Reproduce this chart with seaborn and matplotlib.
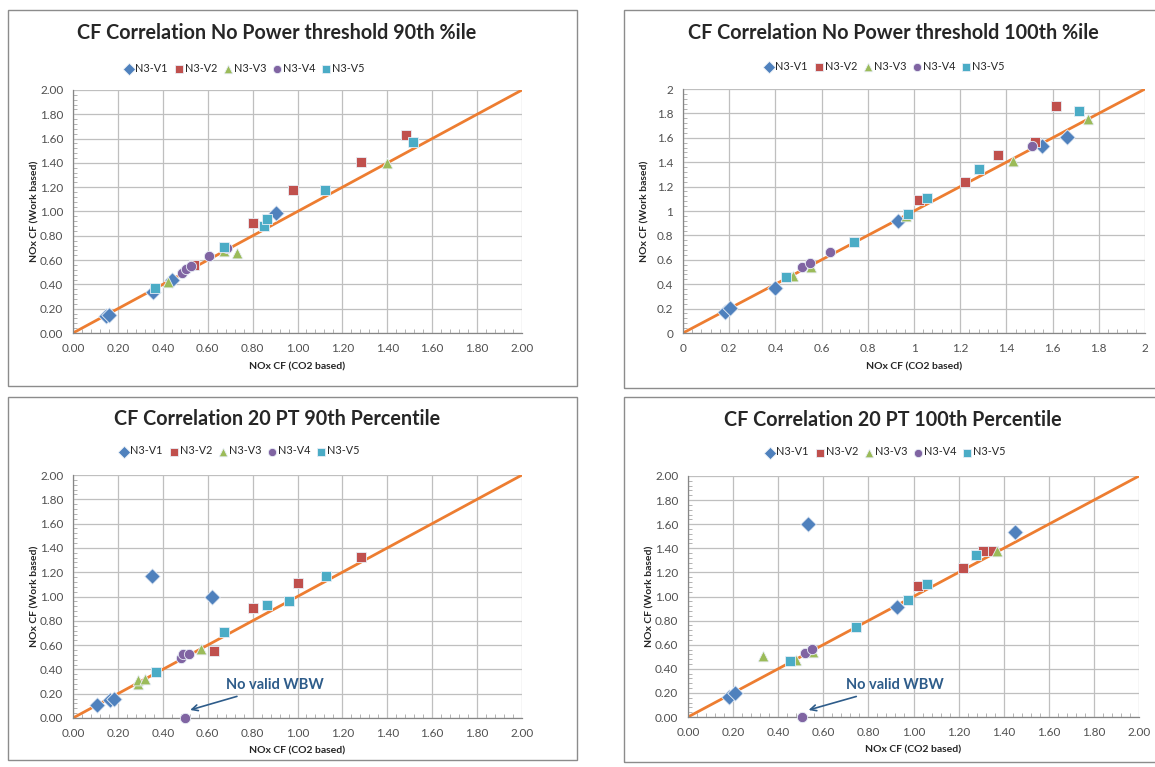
import numpy as np
import pandas as pd
import seaborn as sns
import matplotlib.pyplot as plt
from matplotlib.patches import Rectangle
from matplotlib.ticker import MultipleLocator, FormatStrFormatter

# series names and colours (Excel 2007 palette)
series = ['N3-V1', 'N3-V2', 'N3-V3', 'N3-V4', 'N3-V5']
markers = ['D', 's', '^', 'o', 's']
colors = ['#4F81BD', '#C0504D', '#9BBB59', '#8064A2', '#4BACC6']
sizes = [62, 58, 60, 55, 58]

# 1:1 reference line
ref_x = [0, 2]
ref_y = [0, 2]

# --- No power threshold, 90th %ile ---
np90_v1_x = [0.148, 0.160, 0.356, 0.442, 0.905]
np90_v1_y = [0.137, 0.151, 0.337, 0.433, 0.986]
np90_v2_x = [0.537, 0.801, 0.979, 1.283, 1.484]
np90_v2_y = [0.562, 0.904, 1.175, 1.408, 1.630]
np90_v3_x = [0.423, 0.672, 0.730, 1.399]
np90_v3_y = [0.419, 0.679, 0.658, 1.397]
np90_v4_x = [0.485, 0.504, 0.527, 0.604, 0.687]
np90_v4_y = [0.493, 0.529, 0.548, 0.633, 0.701]
np90_v5_x = [0.366, 0.671, 0.849, 0.866, 1.122, 1.513]
np90_v5_y = [0.373, 0.707, 0.879, 0.942, 1.175, 1.575]

# --- No power threshold, 100th %ile ---
np100_v1_x = [0.181, 0.202, 0.399, 0.929, 1.552, 1.664]
np100_v1_y = [0.169, 0.202, 0.371, 0.914, 1.533, 1.604]
np100_v2_x = [1.021, 1.222, 1.365, 1.524, 1.614]
np100_v2_y = [1.091, 1.236, 1.457, 1.563, 1.858]
np100_v3_x = [0.477, 0.556, 0.967, 1.427, 1.755]
np100_v3_y = [0.464, 0.540, 0.955, 1.413, 1.752]
np100_v4_x = [0.516, 0.549, 0.635, 1.509]
np100_v4_y = [0.540, 0.573, 0.668, 1.536]
np100_v5_x = [0.448, 0.739, 0.975, 1.058, 1.282, 1.715]
np100_v5_y = [0.458, 0.750, 0.977, 1.105, 1.347, 1.820]

# --- 20 PT, 90th percentile ---
pt90_v1_x = [0.107, 0.163, 0.181, 0.350, 0.620]
pt90_v1_y = [0.104, 0.145, 0.154, 1.169, 0.993]
pt90_v2_x = [0.628, 0.804, 1.003, 1.285]
pt90_v2_y = [0.554, 0.905, 1.114, 1.325]
pt90_v3_x = [0.289, 0.291, 0.319, 0.571]
pt90_v3_y = [0.283, 0.310, 0.318, 0.565]
pt90_v4_x = [0.482, 0.490, 0.516, 0.498]
pt90_v4_y = [0.497, 0.530, 0.524, 0.0]
pt90_v5_x = [0.369, 0.672, 0.864, 0.963, 1.125]
pt90_v5_y = [0.376, 0.705, 0.927, 0.965, 1.171]

# --- 20 PT, 100th percentile ---
pt100_v1_x = [0.182, 0.207, 0.534, 0.927, 1.449]
pt100_v1_y = [0.163, 0.199, 1.602, 0.914, 1.533]
pt100_v2_x = [1.020, 1.220, 1.308, 1.353]
pt100_v2_y = [1.083, 1.235, 1.378, 1.378]
pt100_v3_x = [0.333, 0.477, 0.554, 1.372]
pt100_v3_y = [0.503, 0.475, 0.539, 1.378]
pt100_v4_x = [0.517, 0.551, 0.504]
pt100_v4_y = [0.530, 0.566, 0.0]
pt100_v5_x = [0.454, 0.744, 0.974, 1.060, 1.279]
pt100_v5_y = [0.461, 0.746, 0.975, 1.102, 1.345]

titles = ['CF Correlation No Power threshold 90th %ile',
          'CF Correlation No Power threshold 100th %ile',
          'CF Correlation 20 PT 90th Percentile',
          'CF Correlation 20 PT 100th Percentile']


def to_frame(xs, ys):
    frames = []
    for name, x, y in zip(series, xs, ys):
        frames.append(pd.DataFrame({'co2': x, 'work': y, 'series': name}))
    return pd.concat(frames, ignore_index=True)


panels = [
    to_frame([np90_v1_x, np90_v2_x, np90_v3_x, np90_v4_x, np90_v5_x],
             [np90_v1_y, np90_v2_y, np90_v3_y, np90_v4_y, np90_v5_y]),
    to_frame([np100_v1_x, np100_v2_x, np100_v3_x, np100_v4_x, np100_v5_x],
             [np100_v1_y, np100_v2_y, np100_v3_y, np100_v4_y, np100_v5_y]),
    to_frame([pt90_v1_x, pt90_v2_x, pt90_v3_x, pt90_v4_x, pt90_v5_x],
             [pt90_v1_y, pt90_v2_y, pt90_v3_y, pt90_v4_y, pt90_v5_y]),
    to_frame([pt100_v1_x, pt100_v2_x, pt100_v3_x, pt100_v4_x, pt100_v5_x],
             [pt100_v1_y, pt100_v2_y, pt100_v3_y, pt100_v4_y, pt100_v5_y]),
]

sns.set_style('white')
plt.rcParams['font.family'] = ['Lato', 'DejaVu Sans']

W, H = 1155, 767
fig = plt.figure(figsize=(W / 100, H / 100), dpi=100)

# layout in pixels: box (x0, y0, x1, y1), axes (x0, y0, x1, y1)
boxes = [(8, 10, 577, 386), (624, 10, 1170, 388),
         (8, 397, 577, 760), (624, 397, 1170, 762)]
axes_px = [(73, 90, 522, 333), (683, 89, 1145, 333),
           (73, 475, 522, 718), (688, 476, 1139, 717)]
title_x = [277, 893, 277, 893]
title_y = [33, 33, 419, 420]
legend_x = [245, 885, 240, 886]
legend_y = [68, 66, 451, 452]
xlabel_y = [367, 367, 751, 750]
fmts = ['%.2f', '%g', '%.2f', '%.2f']
notes = [None, None, (0.516, 0.063, 0.682, 0.269), (0.529, 0.055, 0.702, 0.262)]


def fx(px):
    return px / W


def fy(py):
    return 1 - py / H


for i, df in enumerate(panels):
    bx0, by0, bx1, by1 = boxes[i]
    fig.patches.append(Rectangle((fx(bx0), fy(by1)), fx(bx1 - bx0), (by1 - by0) / H,
                                 transform=fig.transFigure, fill=False,
                                 edgecolor='#8C8C8C', lw=1.0))
    ax0, ay0, ax1, ay1 = axes_px[i]
    ax = fig.add_axes([fx(ax0), fy(ay1), fx(ax1 - ax0), (ay1 - ay0) / H])

    sns.lineplot(x=ref_x, y=ref_y, color='#ED7D31', lw=2, ax=ax, zorder=2)
    for name, m, c, s in zip(series, markers, colors, sizes):
        sub = df[df['series'] == name]
        sns.scatterplot(data=sub, x='co2', y='work', marker=m, color=c, s=s,
                        edgecolor='#e8eef6', linewidth=0.6, ax=ax, label=name,
                        zorder=3, clip_on=False)

    ax.set_xlim(0, 2)
    ax.set_ylim(0, 2)
    ax.xaxis.set_major_locator(MultipleLocator(0.2))
    ax.yaxis.set_major_locator(MultipleLocator(0.2))
    ax.xaxis.set_minor_locator(MultipleLocator(0.04))
    ax.yaxis.set_minor_locator(MultipleLocator(0.04))
    ax.xaxis.set_major_formatter(FormatStrFormatter(fmts[i]))
    ax.yaxis.set_major_formatter(FormatStrFormatter(fmts[i]))
    ax.grid(True, which='major', color='#BFBFBF', lw=0.9)
    ax.set_axisbelow(True)
    for side in ['top', 'right']:
        ax.spines[side].set_visible(False)
    for side in ['left', 'bottom']:
        ax.spines[side].set_color('#868686')
        ax.spines[side].set_linewidth(0.9)
    ax.tick_params(which='major', direction='out', length=4, color='#868686',
                   labelsize=8.5, labelcolor='#505050', pad=3)
    ax.tick_params(which='minor', direction='in', length=3, color='#A6A6A6',
                   bottom=True, left=True)

    ax.set_xlabel('')
    ax.set_ylabel('')
    fig.text(fx((ax0 + ax1) / 2), fy(xlabel_y[i]), 'NOx CF (CO2 based)',
             ha='center', va='center', fontsize=7.5, fontweight='bold')
    fig.text(fx(ax0 - 38), fy((ay0 + ay1) / 2), 'NOx CF (Work based)',
             ha='center', va='center', rotation=90, fontsize=7.5, fontweight='bold')
    fig.text(fx(title_x[i]), fy(title_y[i]), titles[i],
             ha='center', va='center', fontsize=14.2, fontweight='bold')

    ax.legend(loc='center', bbox_to_anchor=(fx(legend_x[i]), fy(legend_y[i])),
              bbox_transform=fig.transFigure, ncol=5, frameon=False,
              fontsize=7.8, markerscale=0.8, handletextpad=0.15,
              columnspacing=0.6, handlelength=0.8)

    if notes[i] is not None:
        hx, hy, tx, ty = notes[i]
        ax.annotate('No valid WBW', xy=(hx, hy), xytext=(tx, ty),
                    fontsize=10.5, fontweight='bold', color='#2E5C8A',
                    ha='left', va='center',
                    arrowprops=dict(arrowstyle='->', color='#2E5C8A', lw=1.2,
                                    shrinkA=2, shrinkB=1))

fig.savefig('out.png', dpi=100, facecolor='white')
